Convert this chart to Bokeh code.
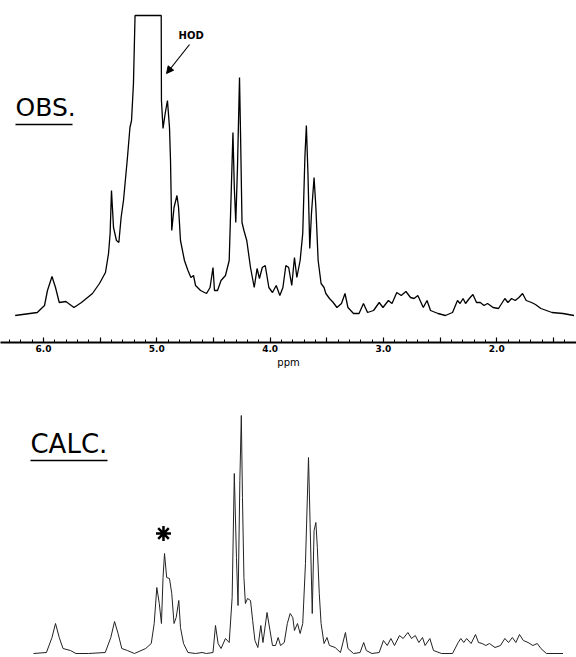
from bokeh.plotting import figure
from bokeh.layouts import column
from bokeh.models import Range1d, FixedTicker, BoxAnnotation, Arrow, NormalHead, Label
from bokeh.embed import file_html
from bokeh.resources import INLINE

# ---------------- data ----------------
obs_ppm = [6.250, 6.055, 5.991, 5.965, 5.925, 5.894, 5.861, 5.802, 5.779, 5.731,
           5.665, 5.568, 5.506, 5.453, 5.426, 5.412, 5.400, 5.382, 5.356, 5.335,
           5.315, 5.294, 5.259, 5.237, 5.223, 5.206, 5.192, 4.961, 4.959, 4.945,
           4.926, 4.906, 4.888, 4.879, 4.868, 4.848, 4.822, 4.808, 4.791, 4.756,
           4.725, 4.699, 4.676, 4.658, 4.614, 4.561, 4.530, 4.504, 4.491, 4.464,
           4.433, 4.394, 4.361, 4.341, 4.328, 4.316, 4.303, 4.288, 4.270, 4.261,
           4.248, 4.231, 4.206, 4.173, 4.140, 4.115, 4.094, 4.069, 4.043, 4.011,
           3.979, 3.946, 3.914, 3.887, 3.861, 3.836, 3.809, 3.785, 3.764, 3.735,
           3.712, 3.693, 3.680, 3.666, 3.650, 3.635, 3.612, 3.596, 3.576, 3.550,
           3.524, 3.508, 3.476, 3.443, 3.410, 3.370, 3.339, 3.313, 3.264, 3.215,
           3.176, 3.140, 3.087, 3.037, 3.004, 2.956, 2.924, 2.882, 2.843, 2.801,
           2.761, 2.729, 2.696, 2.664, 2.648, 2.615, 2.584, 2.518, 2.453, 2.390,
           2.346, 2.323, 2.297, 2.275, 2.242, 2.210, 2.178, 2.145, 2.112, 2.081,
           2.032, 1.984, 1.928, 1.901, 1.869, 1.837, 1.804, 1.772, 1.740, 1.693,
           1.658, 1.610, 1.512, 1.415, 1.318]
obs_int = [2, 5, 12, 27, 41, 30, 15, 16, 14, 10,
           15, 24, 34, 45, 64, 84, 127, 90, 77, 75,
           100, 117, 160, 190, 197, 234, 302, 302, 217, 189,
           204, 217, 190, 157, 87, 110, 122, 110, 77, 57,
           47, 40, 42, 32, 27, 24, 30, 50, 27, 27,
           37, 42, 57, 134, 185, 130, 95, 150, 240, 184,
           95, 87, 77, 50, 30, 49, 39, 50, 52, 30,
           25, 32, 22, 30, 52, 50, 32, 60, 40, 57,
           84, 160, 192, 144, 69, 104, 140, 110, 57, 34,
           30, 24, 19, 15, 10, 14, 24, 10, 4, 4,
           14, 5, 7, 15, 10, 17, 14, 25, 22, 26,
           20, 19, 22, 14, 10, 17, 7, 4, 2, 5,
           17, 14, 19, 14, 19, 23, 15, 15, 12, 14,
           10, 9, 19, 15, 19, 17, 20, 24, 17, 15,
           13, 9, 5, 4, 2]

calc_ppm = [6.088, 5.974, 5.925, 5.894, 5.861, 5.828, 5.762, 5.714, 5.603, 5.455,
            5.406, 5.373, 5.342, 5.309, 5.260, 5.197, 5.098, 5.049, 5.023, 5.000,
            4.978, 4.959, 4.945, 4.932, 4.913, 4.888, 4.868, 4.848, 4.829, 4.806,
            4.791, 4.764, 4.725, 4.658, 4.601, 4.561, 4.504, 4.482, 4.459, 4.433,
            4.394, 4.361, 4.335, 4.316, 4.297, 4.283, 4.267, 4.254, 4.244, 4.231,
            4.218, 4.199, 4.173, 4.154, 4.134, 4.108, 4.082, 4.063, 4.027, 4.001,
            3.979, 3.952, 3.929, 3.908, 3.875, 3.848, 3.823, 3.800, 3.785, 3.758,
            3.735, 3.712, 3.688, 3.661, 3.647, 3.628, 3.612, 3.596, 3.583, 3.566,
            3.550, 3.524, 3.498, 3.476, 3.426, 3.379, 3.335, 3.313, 3.264, 3.206,
            3.174, 3.151, 3.102, 3.037, 3.000, 2.966, 2.934, 2.902, 2.858, 2.826,
            2.784, 2.752, 2.719, 2.687, 2.655, 2.632, 2.590, 2.558, 2.487, 2.390,
            2.340, 2.317, 2.291, 2.265, 2.226, 2.187, 2.161, 2.129, 2.096, 2.064,
            2.015, 1.967, 1.928, 1.896, 1.862, 1.831, 1.799, 1.765, 1.723, 1.681,
            1.642, 1.610, 1.561, 1.415]
calc_int = [0, 1, 16, 30, 16, 5, 3, 0, 0, 1,
            16, 32, 20, 5, 3, 0, 5, 10, 30, 66,
            50, 30, 76, 100, 76, 75, 60, 30, 36, 53,
            26, 10, 1, 0, 1, 0, 1, 28, 10, 5,
            15, 11, 56, 180, 96, 48, 173, 238, 156, 76,
            50, 55, 53, 33, 13, 6, 28, 11, 41, 23,
            8, 8, 16, 8, 11, 30, 40, 36, 23, 30,
            20, 30, 90, 196, 130, 40, 123, 131, 106, 60,
            30, 10, 16, 8, 6, 1, 21, 5, 0, 1,
            11, 3, 0, 1, 13, 8, 15, 8, 18, 15,
            21, 15, 18, 11, 16, 8, 15, 3, 0, 0,
            11, 15, 11, 15, 10, 19, 11, 10, 8, 10,
            6, 8, 15, 11, 16, 11, 19, 13, 11, 8,
            10, 5, 0, 0]

major_ticks = [1.5, 2.0, 2.5, 3.0, 3.5, 4.0, 4.5, 5.0, 5.5, 6.0]
tick_labels = ["", "2.0", "", "3.0", "", "4.0", "", "5.0", "", "6.0"]
minor_ticks = [round(1.4 + 0.1 * i, 1) for i in range(50)]

obs_label = "OBS."
calc_label = "CALC."
hod_label = "HOD"
star_ppm = [4.941]
star_int = [120]

# ---------------- layout ----------------
FONT = "DejaVu Sans"
xr = Range1d(6.3795, 1.2958)

p1 = figure(width=576, height=371, x_range=xr, y_range=Range1d(-25, 317),
            output_backend="svg", toolbar_location=None, y_axis_location=None,
            min_border_left=0, min_border_right=0, min_border_top=0,
            min_border_bottom=29)
p1.grid.visible = False
p1.outline_line_color = None

p1.line(obs_ppm, obs_int, line_color="black", line_width=1.3)

ax = p1.xaxis[0]
ax.ticker = FixedTicker(ticks=major_ticks, minor_ticks=minor_ticks)
ax.major_label_overrides = {t: l for t, l in zip(major_ticks, tick_labels)}
ax.axis_line_width = 2
ax.axis_line_color = "black"
ax.major_tick_in = 5
ax.major_tick_out = 0
ax.major_tick_line_width = 1.2
ax.minor_tick_in = 3
ax.minor_tick_out = 0
ax.major_label_standoff = 2
ax.major_label_text_font = FONT
ax.major_label_text_font_size = "9px"
ax.major_label_text_font_style = "bold"
ax.major_label_text_color = "black"
ax.axis_label = "ppm"
ax.axis_label_text_font = FONT
ax.axis_label_text_font_size = "10px"
ax.axis_label_text_font_style = "normal"
ax.axis_label_standoff = 2
ax.axis_label_text_color = "black"

p1.add_layout(Label(x=6.247, y=210, text=obs_label, text_font=FONT,
                    text_font_size="25px", text_color="black",
                    text_baseline="alphabetic", text_align="left"))
p1.add_layout(BoxAnnotation(left=6.247, right=5.744, bottom=192.3, top=193.8,
                            fill_color="black", fill_alpha=1, line_color=None))
p1.add_layout(Label(x=4.808, y=282, text=hod_label, text_font=FONT,
                    text_font_size="10px", text_font_style="bold",
                    text_color="black", text_baseline="alphabetic"))
p1.add_layout(Arrow(x_start=4.711, y_start=273, x_end=4.914, y_end=244,
                    line_width=1.2, line_color="black",
                    end=NormalHead(size=7, fill_color="black", line_color="black")))

p2 = figure(width=576, height=286, x_range=xr, y_range=Range1d(-4, 282),
            output_backend="svg", toolbar_location=None,
            x_axis_location=None, y_axis_location=None,
            min_border_left=0, min_border_right=0, min_border_top=0,
            min_border_bottom=0)
p2.grid.visible = False
p2.outline_line_color = None

p2.line(calc_ppm, calc_int, line_color="#222222", line_width=1.0)
p2.scatter(star_ppm, star_int, marker="asterisk", size=15, line_width=2.5,
           line_color="black")

p2.add_layout(Label(x=6.115, y=209.5, text=calc_label, text_font=FONT,
                    text_font_size="26px", text_color="black",
                    text_baseline="alphabetic", text_align="left"))
p2.add_layout(BoxAnnotation(left=6.115, right=5.435, bottom=192.2, top=193.7,
                            fill_color="black", fill_alpha=1, line_color=None))

layout = column(p1, p2)
open("out.html", "w").write(file_html(layout, INLINE))
